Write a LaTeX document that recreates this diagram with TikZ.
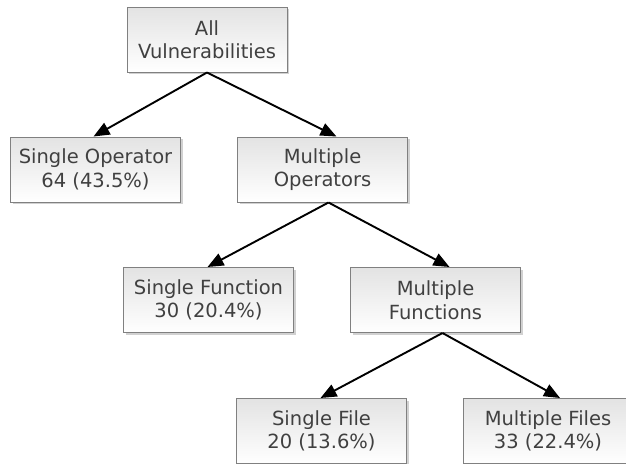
\documentclass[tikz,border=0pt]{standalone}
\usepackage{fontspec}
\setmainfont{DejaVu Sans}
\usetikzlibrary{arrows.meta,shadows,calc}
\definecolor{txt}{HTML}{404040}
\definecolor{bord}{HTML}{808080}
\tikzset{
  box/.style={draw=bord, line width=1pt, top color=black!11, bottom color=white,
    minimum width=170pt, minimum height=65pt, inner sep=0pt, align=center,
    text=txt, font=\fontsize{19.5}{23.5}\selectfont,
    drop shadow={shadow xshift=2pt, shadow yshift=-2pt, fill=black!30, opacity=0.6}},
  arr/.style={line width=1.9pt, -{Triangle[length=16pt,width=13pt]}}
}
\begin{document}
\begin{tikzpicture}[x=1pt,y=-1pt]
\useasboundingbox (0,0) rectangle (626,463);
\clip (0,0) rectangle (626,463);
\node[box, minimum width=160pt] (av) at (207,39.5) {All\\Vulnerabilities};
\node[box] (so) at (95.5,169.5) {Single Operator\\64 (43.5\%)};
\node[box] (mo) at (322.5,169.5) {Multiple\\Operators};
\node[box] (sf) at (208.5,300) {Single Function\\30 (20.4\%)};
\node[box] (mf) at (435.5,300) {Multiple\\Functions};
\node[box] (sfi) at (321.5,431) {Single File\\20 (13.6\%)};
\node[box] (mfi) at (548,431) {Multiple Files\\33 (22.4\%)};
\draw[arr] (av.south) -- ($(so.north)+(-2,0)$);
\draw[arr] (av.south) -- ($(mo.north)+(14,0)$);
\draw[arr] ($(mo.south)+(6,0)$) -- ($(sf.north)+(-1,0)$);
\draw[arr] ($(mo.south)+(6,0)$) -- ($(mf.north)+(14,0)$);
\draw[arr] ($(mf.south)+(7,0)$) -- ($(sfi.north)+(-1,0)$);
\draw[arr] ($(mf.south)+(7,0)$) -- ($(mfi.north)+(12,0)$);
\end{tikzpicture}
\end{document}
